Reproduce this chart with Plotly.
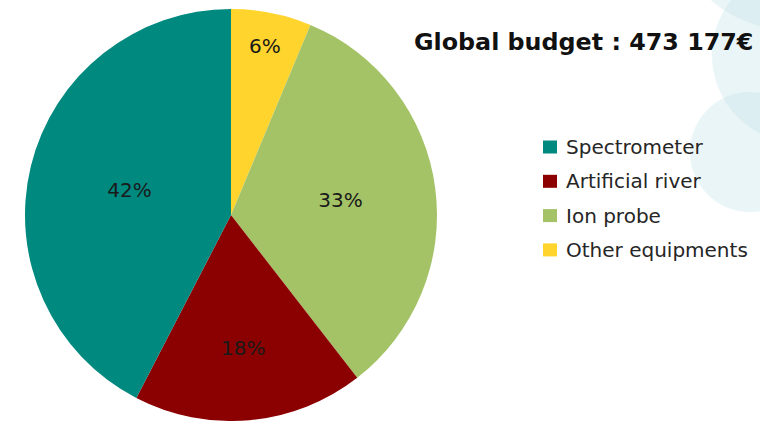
import plotly.graph_objects as go

# ---- data ----
labels = ["Spectrometer", "Artificial river", "Ion probe", "Other equipments"]
values = [42.4, 18.1, 33.2, 6.3]          # share of the budget (%)
colors = ["#00897F", "#8B0000", "#A4C266", "#FFD42C"]
title_text = "Global budget : 473 177€"

W, H = 760, 421


def px(x):
    return x / W


def py(y):
    return 1 - y / H


# pie placement (pixels)
CX, CY, R = 231, 215, 206

fig = go.Figure()
# slices listed in reverse so that, drawn clockwise from 12 o'clock,
# the Spectrometer slice runs counter-clockwise from the top as in the original
fig.add_trace(go.Pie(
    labels=labels[::-1],
    values=values[::-1],
    sort=False,
    direction="clockwise",
    rotation=0,
    marker=dict(colors=colors[::-1], line=dict(width=0)),
    textinfo="percent",
    texttemplate="%{percent:.0%}",
    textposition="inside",
    insidetextorientation="horizontal",
    textfont=dict(family="DejaVu Sans", size=20, color="#1a1a1a"),
    domain=dict(x=[px(CX - R), px(CX + R)],
                y=[max(0, py(CY + R)), min(1, py(CY - R))]),
    showlegend=False,
    hoverinfo="label+percent",
))

shapes = []
# decorative light circles (top right)
for cx, cy, r in [(790, -90, 120), (800, 55, 88), (750, 152, 60)]:
    shapes.append(dict(type="circle", xref="paper", yref="paper",
                       x0=px(cx - r), x1=px(cx + r), y0=py(cy + r), y1=py(cy - r),
                       fillcolor="rgba(190,225,232,0.33)", line=dict(width=0),
                       layer="below"))

annotations = []
# manual legend
y0, dy = 147, 34.3
for i, (lab, col) in enumerate(zip(labels, colors)):
    yc = y0 + i * dy
    shapes.append(dict(type="rect", xref="paper", yref="paper",
                       x0=px(543), x1=px(557), y0=py(yc + 6.5), y1=py(yc - 6.5),
                       fillcolor=col, line=dict(width=0)))
    annotations.append(dict(text=lab, xref="paper", yref="paper",
                            x=px(564), y=py(yc), xanchor="left", yanchor="middle",
                            showarrow=False,
                            font=dict(family="DejaVu Sans", size=20, color="#262626")))

annotations.append(dict(text="<b>" + title_text + "</b>", xref="paper", yref="paper",
                        x=px(412), y=py(42), xanchor="left", yanchor="middle",
                        showarrow=False,
                        font=dict(family="DejaVu Sans", size=23.8, color="#111111")))

fig.update_layout(
    width=W, height=H,
    margin=dict(l=0, r=0, t=0, b=0),
    paper_bgcolor="white",
    plot_bgcolor="white",
    shapes=shapes,
    annotations=annotations,
)

fig.write_html("out.html",
               config={"displayModeBar": False},
               post_script="document.body.style.margin='0';"
                           "document.body.style.overflow='hidden';")
